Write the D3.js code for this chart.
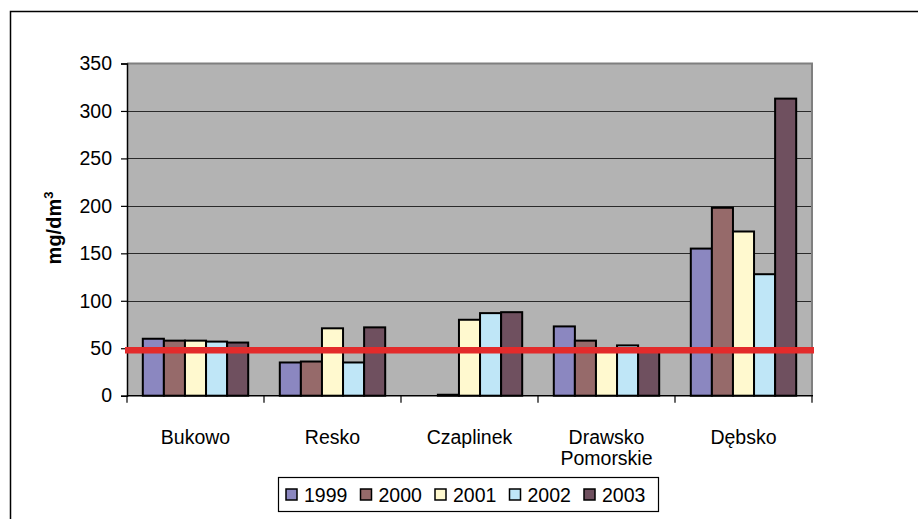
<!DOCTYPE html>
<html><head><meta charset="utf-8">
<script src="https://cdn.jsdelivr.net/npm/d3@7"></script>
<style>html,body{margin:0;padding:0;background:#fff;}svg{display:block;font-family:"Liberation Sans",Arial,sans-serif;}</style>
</head><body>
<svg id="chart" width="918" height="519"></svg>
<script>
const categories = ["Bukowo", "Resko", "Czaplinek", "Drawsko\nPomorskie", "Dębsko"];
const years = ["1999", "2000", "2001", "2002", "2003"];
const values1999 = [60, 35, 0, 73, 155];
const values2000 = [58, 36, 1, 58, 198];
const values2001 = [58, 71, 80, 48, 173];
const values2002 = [57, 35, 87, 53, 128];
const values2003 = [56, 72, 88, 49, 313];
const yTicks = [0, 50, 100, 150, 200, 250, 300, 350];
const limitValue = 48;
const colors = ["#8b87c0", "#966a6a", "#fff9cf", "#bfe6f7", "#6f505f"];

const series = [values1999, values2000, values2001, values2002, values2003];
const svg = d3.select("#chart");
const m = {left: 127, right: 812, top: 63.5, bottom: 395.7};
const FS = 19.5;

// outer frame (cropped at right and bottom)
svg.append("rect").attr("x", 10.5).attr("y", 11.5).attr("width", 950).attr("height", 560)
  .attr("fill", "#fff").attr("stroke", "#000").attr("stroke-width", 1.5);

const x = d3.scaleBand().domain(categories).range([m.left, m.right]).padding(0);
const xi = d3.scaleBand().domain(years).range([0, x.bandwidth()]).paddingInner(0).paddingOuter(0.75);
const y = d3.scaleLinear().domain([0, 350]).range([m.bottom, m.top]);

// plot area
svg.append("rect").attr("x", m.left).attr("y", m.top).attr("width", m.right - m.left)
  .attr("height", m.bottom - m.top).attr("fill", "#b3b3b3");

// gridlines
svg.append("g").selectAll("line").data(yTicks.filter(t => t > 0 && t < 350)).join("line")
  .attr("x1", m.left).attr("x2", m.right)
  .attr("y1", d => Math.round(y(d)) + 0.5).attr("y2", d => Math.round(y(d)) + 0.5)
  .attr("stroke", "#2a2a2a").attr("stroke-width", 1.2);

// plot border top/right
svg.append("path").attr("d", `M${m.left},${m.top}H${m.right}V${m.bottom}`)
  .attr("fill", "none").attr("stroke", "#7f7f7f").attr("stroke-width", 2);

// bars
const groups = svg.append("g").selectAll("g").data(categories).join("g")
  .attr("transform", d => `translate(${x(d)},0)`);
groups.selectAll("rect").data((d, i) => years.map((yr, j) => ({yr, j, v: series[j][i]})))
  .join("rect")
  .filter(d => d.v > 0)
  .attr("x", d => xi(d.yr)).attr("width", xi.bandwidth())
  .attr("y", d => y(d.v)).attr("height", d => y(0) - y(d.v))
  .attr("fill", d => colors[d.j]).attr("stroke", "#000").attr("stroke-width", 2);

// y axis
const yAxis = svg.append("g").attr("transform", `translate(${m.left},0)`)
  .call(d3.axisLeft(y).tickValues(yTicks).tickSize(6).tickPadding(9));
yAxis.select(".domain").attr("stroke", "#000").attr("stroke-width", 1.5);
yAxis.selectAll(".tick line").attr("stroke", "#000").attr("stroke-width", 1.2);
yAxis.selectAll("text").attr("font-size", FS).attr("fill", "#000")
  .attr("font-family", "Liberation Sans, Arial, sans-serif");

// x axis
const xAxisG = svg.append("g").attr("transform", `translate(0,${m.bottom})`);
xAxisG.append("line").attr("x1", m.left).attr("x2", m.right + 1).attr("y1", 0).attr("y2", 0)
  .attr("stroke", "#000").attr("stroke-width", 1.5);
const bounds = categories.map(c => x(c)).concat([x(categories[categories.length - 1]) + x.bandwidth()]);
xAxisG.selectAll("line.tk").data(bounds).join("line").attr("class", "tk")
  .attr("x1", d => d).attr("x2", d => d).attr("y1", 0).attr("y2", 7)
  .attr("stroke", "#000").attr("stroke-width", 1.2);
const xl = xAxisG.selectAll("text").data(categories).join("text")
  .attr("x", d => x(d) + x.bandwidth() / 2).attr("y", 48)
  .attr("text-anchor", "middle").attr("font-size", FS).attr("fill", "#000");
xl.each(function(d) {
  const lines = d.split("\n");
  d3.select(this).selectAll("tspan").data(lines).join("tspan")
    .attr("x", x(d) + x.bandwidth() / 2).attr("dy", (l, i) => i === 0 ? 0 : 21.5).text(l => l);
});

// limit line
svg.append("line").attr("x1", m.left - 2).attr("x2", m.right + 2)
  .attr("y1", y(limitValue)).attr("y2", y(limitValue))
  .attr("stroke", "#e32b2b").attr("stroke-width", 6.5);

// y label
const yl = svg.append("text").attr("transform", `translate(61,228) rotate(-90)`)
  .attr("text-anchor", "middle").attr("font-size", 20).attr("font-weight", "bold").attr("fill", "#000");
yl.append("tspan").text("mg/dm");
yl.append("tspan").attr("dy", -8).attr("font-size", 13).text("3");

// legend
const lg = svg.append("g");
lg.append("rect").attr("x", 278.5).attr("y", 477.5).attr("width", 380).attr("height", 34)
  .attr("fill", "#fff").attr("stroke", "#000").attr("stroke-width", 1.2);
const item = lg.selectAll("g").data(years).join("g")
  .attr("transform", (d, i) => `translate(${286 + i * 74.5},494.5)`);
item.append("rect").attr("x", 0).attr("y", -5.5).attr("width", 11).attr("height", 11)
  .attr("fill", (d, i) => colors[i]).attr("stroke", "#000").attr("stroke-width", 1.5);
item.append("text").attr("x", 18).attr("y", 7).attr("font-size", FS).attr("fill", "#000").text(d => d);
</script>
</body></html>
